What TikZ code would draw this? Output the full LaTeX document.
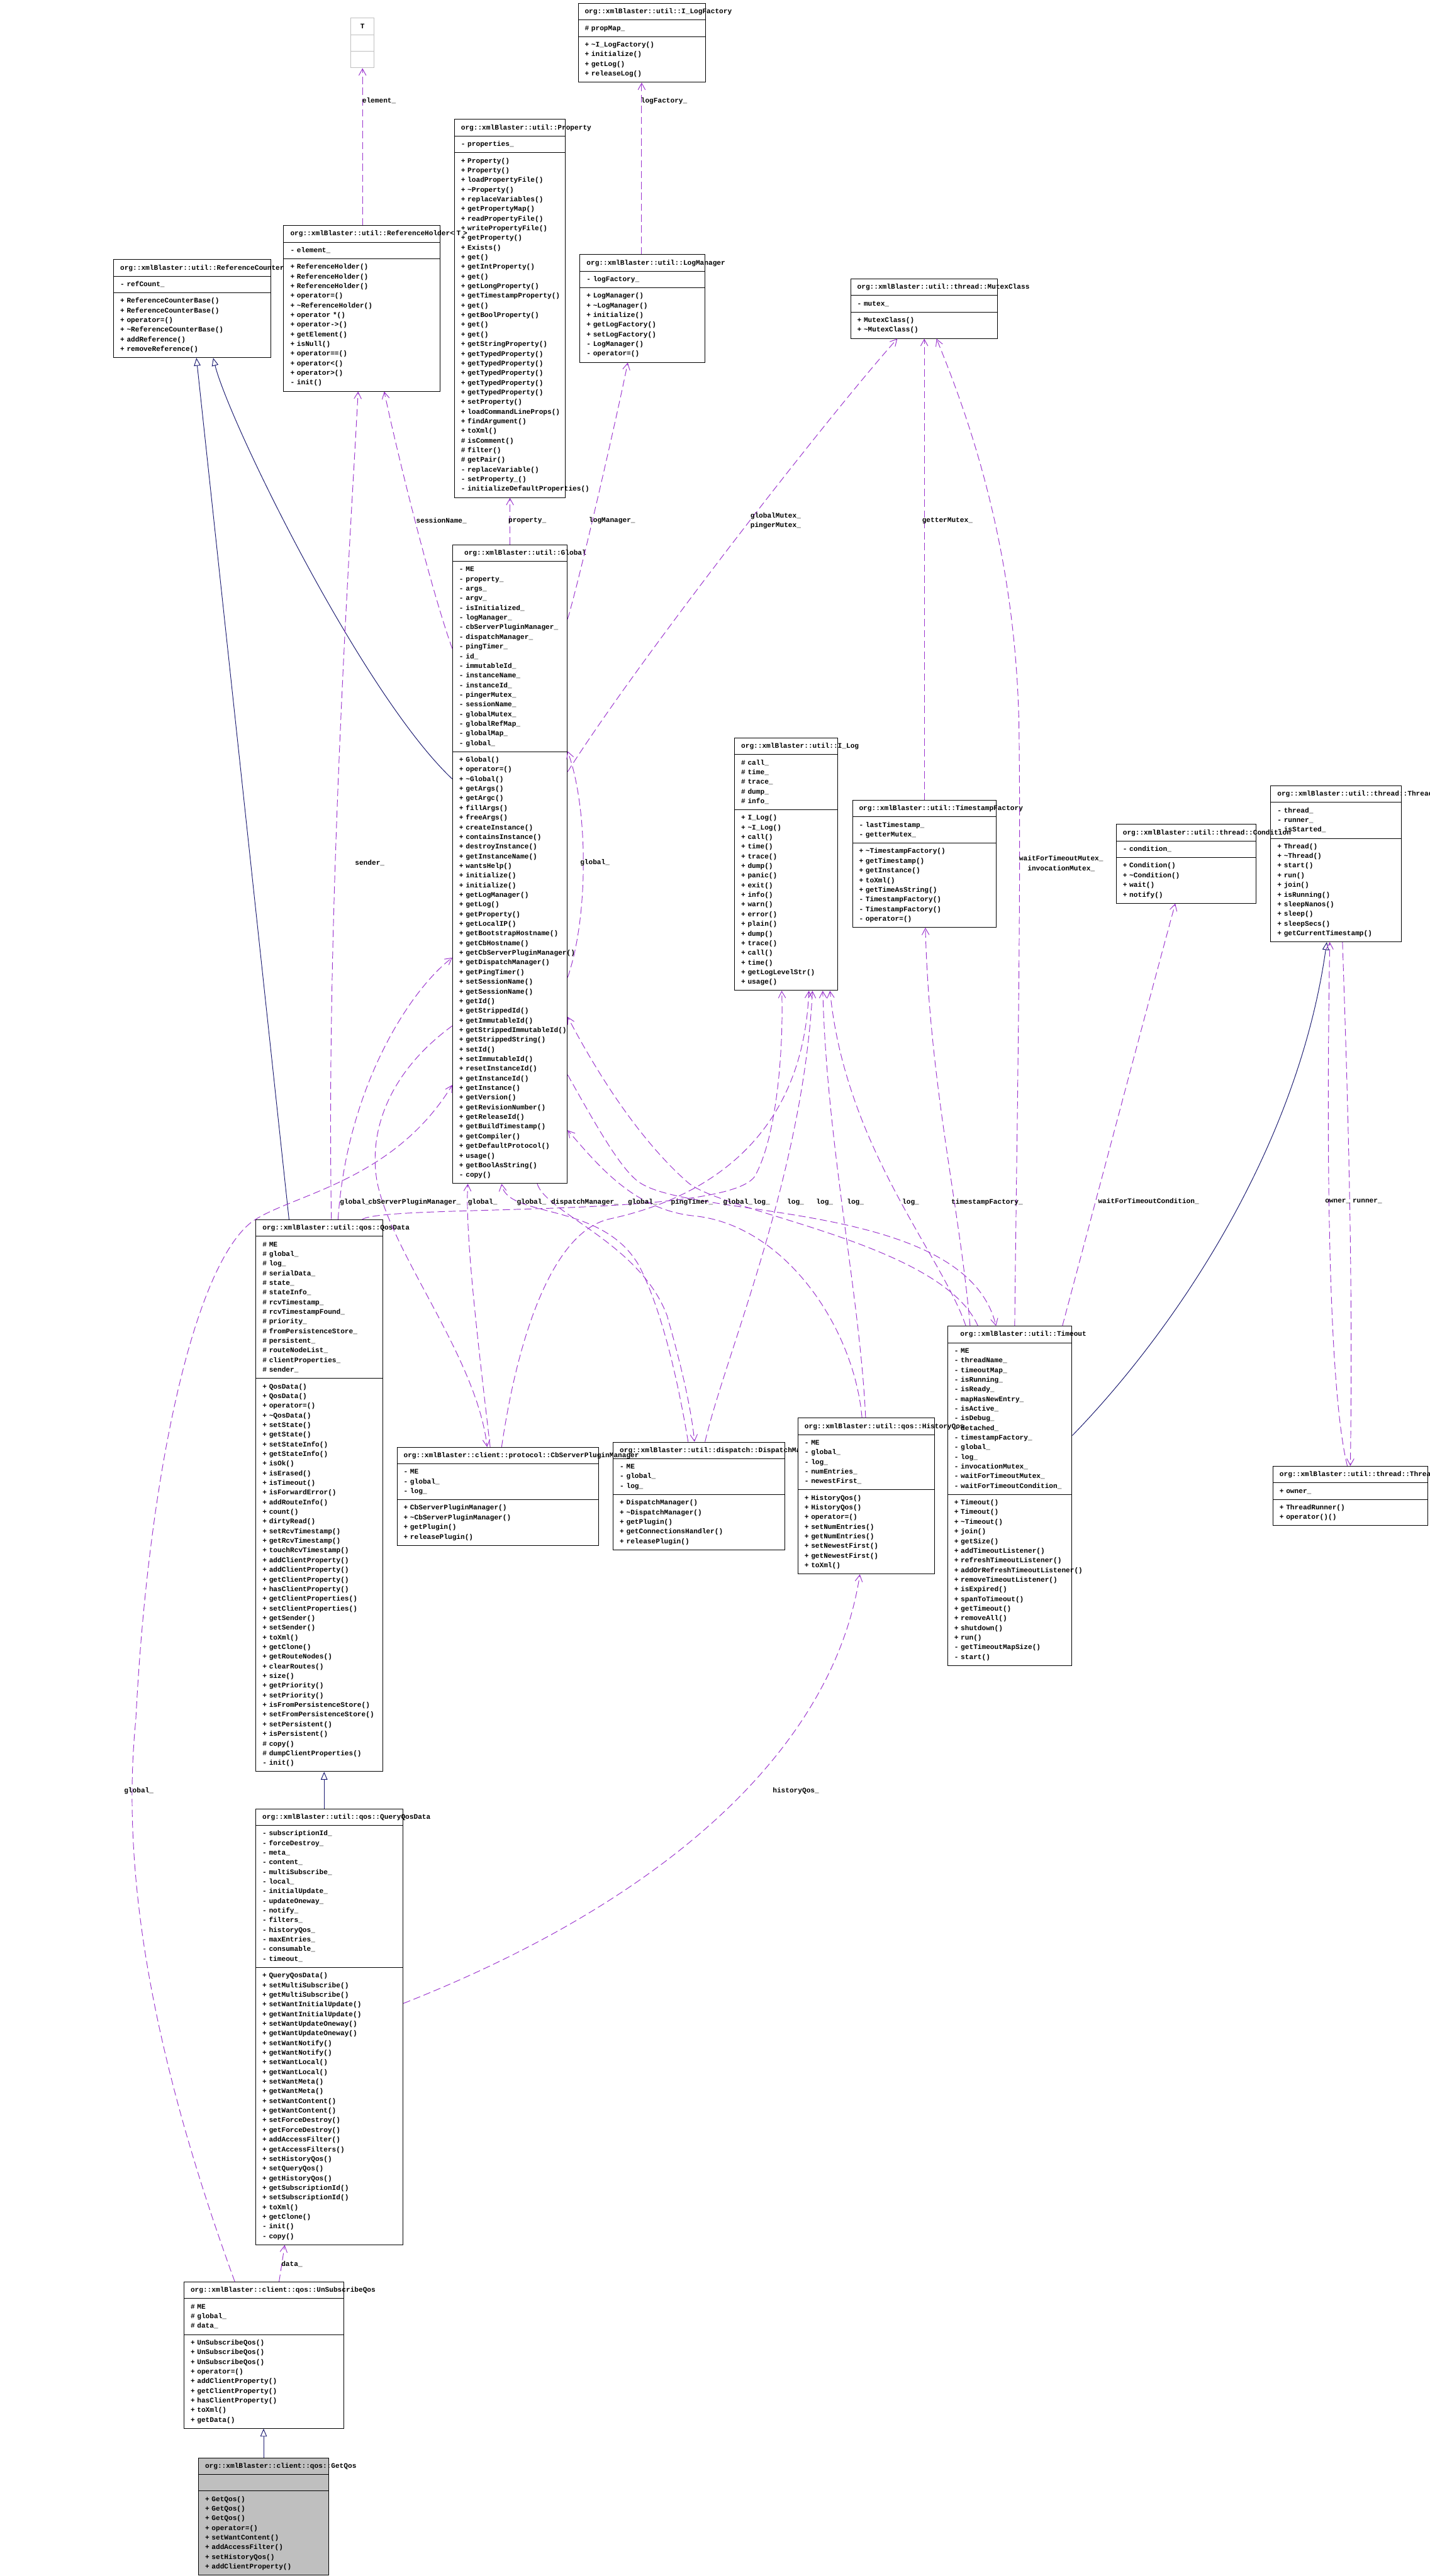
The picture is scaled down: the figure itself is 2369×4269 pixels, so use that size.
\documentclass[tikz,border=0pt]{standalone}
\usepackage{fontspec}
\newfontfamily\umlfamily{Liberation Mono}
\usetikzlibrary{arrows.meta,shapes.multipart}

\definecolor{depcol}{HTML}{9A32CD}
\definecolor{inhcol}{HTML}{191970}
\newcommand\umlfont{\umlfamily\bfseries\fontsize{11.6}{16}\selectfont\hyphenpenalty=10000 \exhyphenpenalty=10000 }
\newcommand\tld{\textasciitilde}
\newcommand\parts[3]{\strut#1\strut\nodepart{two}\strut#2\strut\nodepart{three}\strut#3\strut}

\tikzset{
  cls/.style={draw=black,fill=white,line width=1pt,rectangle split,rectangle split parts=3,
    anchor=north west,inner xsep=11pt,inner ysep=5.25pt,align=left,font=\umlfont},
  dep/.style={draw=depcol,line width=1pt,dash pattern=on 12pt off 6pt,
    -{Straight Barb[length=11pt,width=12pt]}},
  inh/.style={draw=inhcol,line width=1pt,-{Triangle[open,fill=white,length=13pt,width=11pt]}},
  lbl/.style={font=\umlfont,inner sep=0pt,anchor=west,align=left},
}

\begin{document}
\catcode`\_=12
\begin{tikzpicture}[x=1pt,y=1pt]
  \useasboundingbox (0,0) rectangle (2369,-4269);

  % classes, top row
  \node[cls,draw=black!25,text width=17pt,align=center] (tb) at (580.5,-29.5) {\parts{T}{}{}};
  \node[cls,text width=189pt] (ilf) at (957.3,-5.3) {\parts{org::xmlBlaster::util::I_LogFactory}{\#~propMap_}
    {+~\tld I_LogFactory()\\+~initialize()\\+~getLog()\\+~releaseLog()}};
  \node[cls,text width=162pt] (prop) at (752.3,-197.5) {\parts{org::xmlBlaster::util::Property}{-~properties_}
    {+~Property()\\+~Property()\\+~loadPropertyFile()\\+~\tld Property()\\+~replaceVariables()\\
     +~getPropertyMap()\\+~readPropertyFile()\\+~writePropertyFile()\\+~getProperty()\\+~Exists()\\
     +~get()\\+~getIntProperty()\\+~get()\\+~getLongProperty()\\+~getTimestampProperty()\\+~get()\\
     +~getBoolProperty()\\+~get()\\+~get()\\+~getStringProperty()\\+~getTypedProperty()\\
     +~getTypedProperty()\\+~getTypedProperty()\\+~getTypedProperty()\\+~getTypedProperty()\\
     +~setProperty()\\+~loadCommandLineProps()\\+~findArgument()\\+~toXml()\\\#~isComment()\\
     \#~filter()\\\#~getPair()\\-~replaceVariable()\\-~setProperty_()\\-~initializeDefaultProperties()}};
  \node[cls,text width=238pt] (rcb) at (187.7,-429.7) {\parts{org::xmlBlaster::util::ReferenceCounterBase}{-~refCount_}
    {+~ReferenceCounterBase()\\+~ReferenceCounterBase()\\+~operator=()\\+~\tld ReferenceCounterBase()\\
     +~addReference()\\+~removeReference()}};
  \node[cls,text width=237pt] (rh) at (469.5,-373.3) {\parts{org::xmlBlaster::util::ReferenceHolder<~T~>}{-~element_}
    {+~ReferenceHolder()\\+~ReferenceHolder()\\+~ReferenceHolder()\\+~operator=()\\+~\tld ReferenceHolder()\\
     +~operator~*()\\+~operator->()\\+~getElement()\\+~isNull()\\+~operator==()\\+~operator<()\\
     +~operator>()\\-~init()}};
  \node[cls,text width=185pt] (lm) at (960.3,-421.4) {\parts{org::xmlBlaster::util::LogManager}{-~logFactory_}
    {+~LogManager()\\+~\tld LogManager()\\+~initialize()\\+~getLogFactory()\\+~setLogFactory()\\
     -~LogManager()\\-~operator=()}};
  \node[cls,text width=221pt] (mutex) at (1408.7,-461.8) {\parts{org::xmlBlaster::util::thread::MutexClass}{-~mutex_}
    {+~MutexClass()\\+~\tld MutexClass()}};

  % middle row
  \node[cls,text width=168pt] (glob) at (749.3,-902.3) {\parts{\hspace*{8.5pt}org::xmlBlaster::util::Global}
    {-~ME\\-~property_\\-~args_\\-~argv_\\-~isInitialized_\\-~logManager_\\-~cbServerPluginManager_\\
     -~dispatchManager_\\-~pingTimer_\\-~id_\\-~immutableId_\\-~instanceName_\\-~instanceId_\\
     -~pingerMutex_\\-~sessionName_\\-~globalMutex_\\-~globalRefMap_\\-~globalMap_\\-~global_}
    {+~Global()\\+~operator=()\\+~\tld Global()\\+~getArgs()\\+~getArgc()\\+~fillArgs()\\+~freeArgs()\\
     +~createInstance()\\+~containsInstance()\\+~destroyInstance()\\+~getInstanceName()\\+~wantsHelp()\\
     +~initialize()\\+~initialize()\\+~getLogManager()\\+~getLog()\\+~getProperty()\\+~getLocalIP()\\
     +~getBootstrapHostname()\\+~getCbHostname()\\+~getCbServerPluginManager()\\+~getDispatchManager()\\
     +~getPingTimer()\\+~setSessionName()\\+~getSessionName()\\+~getId()\\+~getStrippedId()\\
     +~getImmutableId()\\+~getStrippedImmutableId()\\+~getStrippedString()\\+~setId()\\
     +~setImmutableId()\\+~resetInstanceId()\\+~getInstanceId()\\+~getInstance()\\+~getVersion()\\
     +~getRevisionNumber()\\+~getReleaseId()\\+~getBuildTimestamp()\\+~getCompiler()\\
     +~getDefaultProtocol()\\+~usage()\\+~getBoolAsString()\\-~copy()}};
  \node[cls,text width=149pt] (ilog) at (1216.4,-1222.4) {\parts{org::xmlBlaster::util::I_Log}
    {\#~call_\\\#~time_\\\#~trace_\\\#~dump_\\\#~info_}
    {+~I_Log()\\+~\tld I_Log()\\+~call()\\+~time()\\+~trace()\\+~dump()\\+~panic()\\+~exit()\\+~info()\\
     +~warn()\\+~error()\\+~plain()\\+~dump()\\+~trace()\\+~call()\\+~time()\\+~getLogLevelStr()\\+~usage()}};
  \node[cls,text width=216pt] (tsf) at (1411.7,-1325.8) {\parts{org::xmlBlaster::util::TimestampFactory}
    {-~lastTimestamp_\\-~getterMutex_}
    {+~\tld TimestampFactory()\\+~getTimestamp()\\+~getInstance()\\+~toXml()\\+~getTimeAsString()\\
     -~TimestampFactory()\\-~TimestampFactory()\\-~operator=()}};
  \node[cls,text width=194pt] (thr) at (2104.6,-1301.8) {\parts{org::xmlBlaster::util::thread::Thread}
    {-~thread_\\-~runner_\\-~isStarted_}
    {+~Thread()\\+~\tld Thread()\\+~start()\\+~run()\\+~join()\\+~isRunning()\\+~sleepNanos()\\
     +~sleep()\\+~sleepSecs()\\+~getCurrentTimestamp()}};
  \node[cls,text width=210pt] (cond) at (1848.7,-1365.8) {\parts{org::xmlBlaster::util::thread::Condition}
    {-~condition_}{+~Condition()\\+~\tld Condition()\\+~wait()\\+~notify()}};

  % lower row
  \node[cls,text width=188pt] (qd) at (423.5,-2020.8) {\parts{org::xmlBlaster::util::qos::QosData}
    {\#~ME\\\#~global_\\\#~log_\\\#~serialData_\\\#~state_\\\#~stateInfo_\\\#~rcvTimestamp_\\
     \#~rcvTimestampFound_\\\#~priority_\\\#~fromPersistenceStore_\\\#~persistent_\\\#~routeNodeList_\\
     \#~clientProperties_\\\#~sender_}
    {+~QosData()\\+~QosData()\\+~operator=()\\+~\tld QosData()\\+~setState()\\+~getState()\\
     +~setStateInfo()\\+~getStateInfo()\\+~isOk()\\+~isErased()\\+~isTimeout()\\+~isForwardError()\\
     +~addRouteInfo()\\+~count()\\+~dirtyRead()\\+~setRcvTimestamp()\\+~getRcvTimestamp()\\
     +~touchRcvTimestamp()\\+~addClientProperty()\\+~addClientProperty()\\+~getClientProperty()\\
     +~hasClientProperty()\\+~getClientProperties()\\+~setClientProperties()\\+~getSender()\\
     +~setSender()\\+~toXml()\\+~getClone()\\+~getRouteNodes()\\+~clearRoutes()\\+~size()\\
     +~getPriority()\\+~setPriority()\\+~isFromPersistenceStore()\\+~setFromPersistenceStore()\\
     +~setPersistent()\\+~isPersistent()\\\#~copy()\\\#~dumpClientProperties()\\-~init()}};
  \node[cls,text width=262pt] (dm) at (1015.3,-2389.3) {\parts{org::xmlBlaster::util::dispatch::DispatchManager}
    {-~ME\\-~global_\\-~log_}
    {+~DispatchManager()\\+~\tld DispatchManager()\\+~getPlugin()\\+~getConnectionsHandler()\\+~releasePlugin()}};
  \node[cls,text width=312pt] (cbs) at (657.2,-2397.9) {\parts{org::xmlBlaster::client::protocol::CbServerPluginManager}
    {-~ME\\-~global_\\-~log_}
    {+~CbServerPluginManager()\\+~\tld CbServerPluginManager()\\+~getPlugin()\\+~releasePlugin()}};
  \node[cls,text width=184pt] (tmo) at (1569.4,-2197.2) {\parts{\hspace*{10pt}org::xmlBlaster::util::Timeout}
    {-~ME\\-~threadName_\\-~timeoutMap_\\-~isRunning_\\-~isReady_\\-~mapHasNewEntry_\\-~isActive_\\
     -~isDebug_\\-~detached_\\-~timestampFactory_\\-~global_\\-~log_\\-~invocationMutex_\\
     -~waitForTimeoutMutex_\\-~waitForTimeoutCondition_}
    {+~Timeout()\\+~Timeout()\\+~\tld Timeout()\\+~join()\\+~getSize()\\+~addTimeoutListener()\\
     +~refreshTimeoutListener()\\+~addOrRefreshTimeoutListener()\\+~removeTimeoutListener()\\
     +~isExpired()\\+~spanToTimeout()\\+~getTimeout()\\+~removeAll()\\+~shutdown()\\+~run()\\
     -~getTimeoutMapSize()\\-~start()}};
  \node[cls,text width=204pt] (hq) at (1321.4,-2349.5) {\parts{org::xmlBlaster::util::qos::HistoryQos}
    {-~ME\\-~global_\\-~log_\\-~numEntries_\\-~newestFirst_}
    {+~HistoryQos()\\+~HistoryQos()\\+~operator=()\\+~setNumEntries()\\+~getNumEntries()\\
     +~setNewestFirst()\\+~getNewestFirst()\\+~toXml()}};
  \node[cls,text width=235pt] (trun) at (2108.3,-2429.3) {\parts{org::xmlBlaster::util::thread::ThreadRunner}
    {+~owner_}{+~ThreadRunner()\\+~operator()()}};

  % bottom
  \node[cls,text width=222pt] (qqd) at (423.3,-2997) {\parts{org::xmlBlaster::util::qos::QueryQosData}
    {-~subscriptionId_\\-~forceDestroy_\\-~meta_\\-~content_\\-~multiSubscribe_\\-~local_\\
     -~initialUpdate_\\-~updateOneway_\\-~notify_\\-~filters_\\-~historyQos_\\-~maxEntries_\\
     -~consumable_\\-~timeout_}
    {+~QueryQosData()\\+~setMultiSubscribe()\\+~getMultiSubscribe()\\+~setWantInitialUpdate()\\
     +~getWantInitialUpdate()\\+~setWantUpdateOneway()\\+~getWantUpdateOneway()\\+~setWantNotify()\\
     +~getWantNotify()\\+~setWantLocal()\\+~getWantLocal()\\+~setWantMeta()\\+~getWantMeta()\\
     +~setWantContent()\\+~getWantContent()\\+~setForceDestroy()\\+~getForceDestroy()\\
     +~addAccessFilter()\\+~getAccessFilters()\\+~setHistoryQos()\\+~setQueryQos()\\
     +~getHistoryQos()\\+~getSubscriptionId()\\+~setSubscriptionId()\\+~toXml()\\+~getClone()\\
     -~init()\\-~copy()}};
  \node[cls,text width=243pt] (unsub) at (304.3,-3781.3) {\parts{org::xmlBlaster::client::qos::UnSubscribeQos}
    {\#~ME\\\#~global_\\\#~data_}
    {+~UnSubscribeQos()\\+~UnSubscribeQos()\\+~UnSubscribeQos()\\+~operator=()\\+~addClientProperty()\\
     +~getClientProperty()\\+~hasClientProperty()\\+~toXml()\\+~getData()}};
  \node[cls,fill=black!25,text width=194pt] (gq) at (328.3,-4072.7) {\parts{org::xmlBlaster::client::qos::GetQos}{}
    {+~GetQos()\\+~GetQos()\\+~GetQos()\\+~operator=()\\+~setWantContent()\\+~addAccessFilter()\\
     +~setHistoryQos()\\+~addClientProperty()}};

  % inheritance
  \draw[inh] (gq.north -| 436.7,0) -- (unsub.south -| 436.7,0);
  \draw[inh] (qqd.north -| 537,0) -- (qd.south -| 537,0);
  \draw[inh] (qd.north -| 478.8,0) -- (rcb.south -| 325.4,0);
  \draw[inh] (glob.west |- 0,-1291) .. controls (600,-1150) and (380,-700) .. (rcb.south -| 353.2,0);
  \draw[inh] (tmo.east |- 0,-2379) .. controls (1950,-2200) and (2150,-1900) .. (thr.south -| 2198,0);

  % usage, top part
  \draw[dep] (rh.north -| tb.south) -- (tb.south);
  \draw[dep] (lm.north -| 1063,0) -- (ilf.south -| 1063,0);
  \draw[dep] (glob.north -| prop.south) -- (prop.south);
  \draw[dep] (glob.east |- 0,-1026) .. controls (960,-960) and (1020,-700) .. (lm.south -| 1040,0);
  \draw[dep] (glob.east |- 0,-1279) .. controls (1060,-1090) and (1380,-680) .. (mutex.south -| 1486.5,0);
  \draw[dep] (tsf.north) -- (mutex.south -| tsf.north);
  \draw[dep] (tmo.north -| 1681,0) .. controls (1684,-1900) and (1692,-1500) .. (1688,-1200)
    .. controls (1682,-900) and (1600,-680) .. (mutex.south -| 1551.4,0);
  \draw[dep] (tmo.north -| 1760,0) .. controls (1810,-2010) and (1900,-1670) .. (cond.south -| 1947,0);
  \draw[dep] (trun.north -| 2232,0) .. controls (2200,-2300) and (2197,-1900) .. (thr.south -| 2203,0);
  \draw[dep] (thr.south -| 2224,0) .. controls (2232,-1800) and (2242,-2100) .. (trun.north -| 2237,0);
  \draw[dep] (tmo.north -| 1607,0) .. controls (1590,-2000) and (1540,-1800) .. (tsf.south -| 1533,0);
  \draw[dep] (qd.north -| 549,0) .. controls (540,-1500) and (580,-900) .. (rh.south -| 593.3,0);
  \draw[dep] (glob.west |- 0,-1075) .. controls (715,-980) and (660,-760) .. (rh.south -| 636.5,0);

  % usage of Global
  \draw[dep] (qd.north -| 560,0) .. controls (575,-1800) and (680,-1640) .. (glob.west |- 0,-1587);
  \draw[dep] (unsub.north -| 389,0) .. controls (250,-3400) and (200,-3100) .. (225,-2850)
    .. controls (245,-2450) and (320,-2100) .. (417,-2025)
    .. controls (480,-1980) and (650,-1960) .. (glob.west |- 0,-1798);
  \draw[dep] (glob.west |- 0,-1700) .. controls (640,-1780) and (610,-1880) .. (625,-1960)
    .. controls (650,-2080) and (790,-2250) .. (cbs.north -| 807,0);
  \draw[dep] (cbs.north -| 812,0) .. controls (795,-2250) and (770,-2050) .. (glob.south -| 775,0);
  \draw[dep] (glob.south -| 890,0) .. controls (905,-2010) and (1060,-2060) .. (1105,-2180)
    .. controls (1125,-2250) and (1145,-2330) .. (dm.north -| 1150.5,0);
  \draw[dep] (dm.north -| 1140,0) .. controls (1125,-2300) and (1100,-2180) .. (1060,-2100)
    .. controls (1000,-1990) and (840,-2020) .. (glob.south -| 831,0);
  \draw[dep] (glob.east |- 0,-1781) .. controls (990,-1870) and (1030,-1940) .. (1060,-1960)
    .. controls (1150,-2020) and (1600,-1990) .. (tmo.north -| 1650,0);
  \draw[dep] (hq.north -| 1428,0) .. controls (1415,-2200) and (1300,-2030) .. (1150,-2015)
    .. controls (1050,-2005) and (990,-1930) .. (glob.east |- 0,-1873);
  \draw[dep] (tmo.north -| 1620,0) .. controls (1560,-2060) and (1200,-2010) .. (1140,-1960)
    .. controls (1060,-1890) and (990,-1780) .. (glob.east |- 0,-1685);
  \draw[dep] (glob.east |- 0,-1620) .. controls (975,-1520) and (975,-1340) .. (glob.east |- 0,-1245);

  % usage of I_Log
  \draw[dep] (qd.north -| 600,0) .. controls (640,-1995) and (1200,-2020) .. (1250,-1950)
    .. controls (1290,-1880) and (1298,-1720) .. (ilog.south -| 1295,0);
  \draw[dep] (cbs.north -| 831,0) .. controls (860,-2200) and (920,-2040) .. (1010,-2020)
    .. controls (1150,-1990) and (1330,-1900) .. (ilog.south -| 1340,0);
  \draw[dep] (dm.north -| 1168,0) .. controls (1200,-2250) and (1330,-1950) .. (ilog.south -| 1346,0);
  \draw[dep] (hq.north -| 1434,0) .. controls (1425,-2150) and (1370,-1900) .. (ilog.south -| 1363,0);
  \draw[dep] (tmo.north -| 1600,0) .. controls (1560,-2080) and (1400,-1900) .. (ilog.south -| 1375,0);

  % usage, bottom part
  \draw[dep] (qqd.east |- 0,-3320) .. controls (1100,-3150) and (1380,-2900) .. (hq.south -| 1424.5,0);
  \draw[dep] (unsub.north -| 462.3,0) -- (qqd.south -| 471.7,0);

  % edge labels
  \node[lbl] (l-elem) at (600,-167) {element_};
  \node[lbl] (l-logf) at (1061.7,-167) {logFactory_};
  \node[lbl] (l-sess) at (689.4,-863) {sessionName_};
  \node[lbl] (l-prop) at (842,-863) {property_};
  \node[lbl] (l-logm) at (975.5,-863) {logManager_};
  \node[lbl] (l-gmtx) at (1243,-863) {globalMutex_\\pingerMutex_};
  \node[lbl] (l-gtmx) at (1527.5,-862.5) {getterMutex_};
  \node[lbl,anchor=center,align=center] (l-wmtx) at (1758,-1431) {waitForTimeoutMutex_\\invocationMutex_};
  \node[lbl] (l-send) at (588,-1430) {sender_};
  \node[lbl] (l-self) at (961,-1430) {global_};
  \node[lbl] (l-g1) at (563,-1992) {global_};
  \node[lbl] (l-cbsp) at (610,-1992) {cbServerPluginManager_};
  \node[lbl] (l-g2) at (775,-1992) {global_};
  \node[lbl] (l-g3) at (856,-1992) {global_};
  \node[lbl] (l-disp) at (913,-1992) {dispatchManager_};
  \node[lbl] (l-g4) at (1040,-1992) {global_};
  \node[lbl] (l-ping) at (1111.4,-1992) {pingTimer_};
  \node[lbl] (l-g5) at (1197.7,-1992) {global_};
  \node[lbl] (l-log1) at (1247.4,-1992) {log_};
  \node[lbl] (l-log2) at (1303.8,-1992) {log_};
  \node[lbl] (l-log3) at (1352,-1992) {log_};
  \node[lbl] (l-log4) at (1403,-1992) {log_};
  \node[lbl] (l-log5) at (1494.5,-1992) {log_};
  \node[lbl] (l-tsf) at (1575.8,-1992) {timestampFactory_};
  \node[lbl] (l-wcnd) at (1819,-1991) {waitForTimeoutCondition_};
  \node[lbl] (l-own) at (2195,-1991) {owner_};
  \node[lbl] (l-run) at (2240.6,-1991) {runner_};
  \node[lbl,anchor=center] (l-g6) at (230,-2968) {global_};
  \node[lbl] (l-hist) at (1280,-2968) {historyQos_};
  \node[lbl] (l-data) at (466,-3752) {data_};
\end{tikzpicture}
\end{document}
